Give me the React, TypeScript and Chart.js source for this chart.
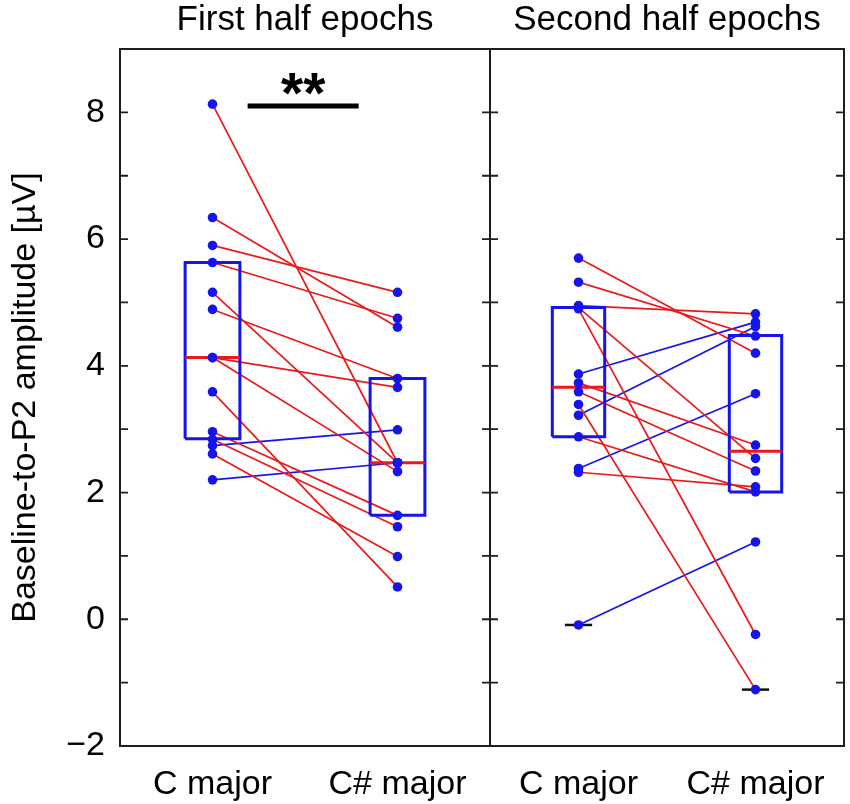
import { useEffect, useRef } from 'react';
import { Chart, registerables } from 'chart.js';

Chart.register(...registerables);

// ---- data ----
const categories = ['C major', 'C# major'];
const panelTitles = ['First half epochs', 'Second half epochs'];
const yTickLabels = [-2, 0, 2, 4, 6, 8];

const firstC = [8.13, 6.34, 5.9, 5.63, 5.16, 4.89, 4.13, 4.13, 3.59, 2.96, 2.84, 2.74, 2.61, 2.2];
const firstCs = [2.47, 4.61, 5.16, 4.75, 2.47, 3.8, 3.66, 2.33, 0.51, 1.64, 1.46, 2.99, 0.99, 2.47];
const secondC = [5.7, 5.32, 4.95, 4.92, 4.9, 3.87, 3.73, 3.59, 3.39, 3.22, 2.88, 2.38, 2.32, -0.09];
const secondCs = [4.2, 4.47, 4.82, 2.54, -0.24, 4.69, 2.75, 2.34, -1.11, 4.62, 2.01, 3.56, 2.09, 1.22];

const firstQ1 = [2.85, 1.64];
const firstMed = [4.13, 2.47];
const firstQ3 = [5.63, 3.8];
const secondQ1 = [2.88, 2.01];
const secondMed = [3.66, 2.65];
const secondQ3 = [4.92, 4.48];
const secondCaps = [-0.09, -1.11];

const sigBar = [1.19, 1.79];
const sigY = 8.1;
const sigLabel = '**';

const yTitle = 'Baseline-to-P2 amplitude [µV]';

// ---- styles ----
const BLUE = 'rgb(20,20,235)';
const RED = 'rgb(235,25,25)';
const FONT = '"Liberation Sans", Arial, Helvetica, sans-serif';
const BW = 0.148;
const CW = 0.077;

function panelDatasets(axis: string, c: number[], cs: number[], q1: number[], med: number[], q3: number[], caps: number[]) {
  const ds: any[] = [];
  const base = { xAxisID: axis, yAxisID: 'y', pointRadius: 0, tension: 0, fill: false };
  ds.push({
    ...base,
    data: [...c.map((v) => ({ x: 1, y: v })), ...cs.map((v) => ({ x: 2, y: v }))],
    showLine: false,
    pointRadius: 4.8,
    pointBackgroundColor: BLUE,
    pointBorderColor: BLUE,
    pointBorderWidth: 0,
    order: 0,
  });
  [0, 1].forEach((i) => {
    ds.push({
      ...base,
      data: [
        { x: i + 1 - BW, y: med[i] },
        { x: i + 1 + BW, y: med[i] },
      ],
      borderColor: RED,
      borderWidth: 3,
      order: 1,
    });
    ds.push({
      ...base,
      data: [
        { x: i + 1 - BW, y: q1[i] },
        { x: i + 1 + BW, y: q1[i] },
        { x: i + 1 + BW, y: q3[i] },
        { x: i + 1 - BW, y: q3[i] },
        { x: i + 1 - BW, y: q1[i] },
      ],
      borderColor: BLUE,
      borderWidth: 3,
      borderJoinStyle: 'miter',
      order: 2,
    });
  });
  caps.forEach((v, i) => {
    ds.push({
      ...base,
      data: [
        { x: i + 1 - CW, y: v },
        { x: i + 1 + CW, y: v },
      ],
      borderColor: '#111',
      borderWidth: 2.5,
      order: 1,
    });
  });
  c.forEach((v, i) => {
    ds.push({
      ...base,
      data: [
        { x: 1, y: v },
        { x: 2, y: cs[i] },
      ],
      borderColor: cs[i] > v ? BLUE : RED,
      borderWidth: 1.7,
      order: 3,
    });
  });
  return ds;
}

const framePlugin = {
  id: 'framePlugin',
  afterDatasetsDraw(chart: any) {
    const { ctx, chartArea: a, scales } = chart;
    const y = scales.y;
    const x1 = scales.x1;
    ctx.save();
    ctx.strokeStyle = '#1e1e1e';
    ctx.lineWidth = 2;
    ctx.strokeRect(a.left, a.top, a.right - a.left, a.bottom - a.top);
    ctx.beginPath();
    ctx.moveTo(x1.right, a.top);
    ctx.lineTo(x1.right, a.bottom);
    ctx.stroke();
    ctx.lineWidth = 1.8;
    y.ticks.forEach((t: any) => {
      const py = y.getPixelForValue(t.value);
      if (Math.abs(py - a.top) < 2 || Math.abs(py - a.bottom) < 2) return;
      ctx.beginPath();
      ctx.moveTo(a.left, py);
      ctx.lineTo(a.left + 8, py);
      ctx.moveTo(x1.right - 8, py);
      ctx.lineTo(x1.right + 8, py);
      ctx.moveTo(a.right - 8, py);
      ctx.lineTo(a.right, py);
      ctx.stroke();
    });
    ctx.restore();
  },
  afterDraw(chart: any) {
    const { ctx, scales } = chart;
    const y = scales.y;
    ctx.save();
    ctx.fillStyle = '#000';
    ctx.textAlign = 'center';
    ctx.textBaseline = 'alphabetic';
    ctx.font = `35px ${FONT}`;
    ctx.fillText(panelTitles[0], scales.x1.getPixelForValue(1.5), 30);
    ctx.fillText(panelTitles[1], scales.x2.getPixelForValue(1.5), 30);
    ctx.font = `bold 57px ${FONT}`;
    ctx.fillText(sigLabel, scales.x1.getPixelForValue((sigBar[0] + sigBar[1]) / 2), y.getPixelForValue(sigY) + 7);
    ctx.restore();
  },
};

function xScale(weight: number) {
  return {
    type: 'linear',
    axis: 'x',
    position: 'bottom',
    stack: 'panels',
    stackWeight: weight,
    min: 0.5,
    max: 2.5,
    grid: { display: false, drawTicks: false },
    border: { display: false },
    ticks: {
      autoSkip: false,
      maxRotation: 0,
      padding: 18,
      color: '#000',
      font: { size: 34, family: FONT },
      callback: (v: number) => categories[Math.round(v) - 1] ?? '',
    },
    afterBuildTicks: (s: any) => {
      s.ticks = [{ value: 1 }, { value: 2 }];
    },
    afterFit: (s: any) => {
      s.height = 58;
      s.paddingLeft = 0;
      s.paddingRight = 0;
    },
  };
}

export default function App() {
  const ref = useRef<HTMLCanvasElement | null>(null);
  useEffect(() => {
    if (!ref.current) return;
    const datasets = [
      ...panelDatasets('x1', firstC, firstCs, firstQ1, firstMed, firstQ3, []),
      ...panelDatasets('x2', secondC, secondCs, secondQ1, secondMed, secondQ3, secondCaps),
      {
        xAxisID: 'x1',
        yAxisID: 'y',
        data: [
          { x: sigBar[0], y: sigY },
          { x: sigBar[1], y: sigY },
        ],
        borderColor: '#000',
        borderWidth: 5,
        pointRadius: 0,
        order: 1,
      },
    ];
    const chart = new Chart(ref.current, {
      type: 'line',
      data: { datasets } as any,
      options: {
        animation: false,
        responsive: true,
        maintainAspectRatio: false,
        events: [],
        layout: { padding: { top: 49, right: 6, left: 0, bottom: 0 } },
        plugins: {
          legend: { display: false },
          tooltip: { enabled: false },
        },
        scales: {
          x1: xScale(370),
          x2: xScale(354),
          y: {
            type: 'linear',
            position: 'left',
            min: -2,
            max: 9,
            grid: { display: false, drawTicks: false },
            border: { display: false },
            ticks: {
              stepSize: 1,
              autoSkip: false,
              padding: 15,
              color: '#000',
              font: { size: 34, family: FONT },
              callback: (v: number) =>
                yTickLabels.includes(v) ? (v < 0 ? '\u2212' + Math.abs(v) : String(v)) : '',
            },
            title: {
              display: true,
              text: yTitle,
              color: '#000',
              font: { size: 34, family: FONT },
              padding: { top: 5, bottom: 0 },
            },
            afterFit: (s: any) => {
              s.width = 120;
            },
          },
        } as any,
      },
      plugins: [framePlugin],
    });
    return () => chart.destroy();
  }, []);
  return (
    <div style={{ position: 'absolute', left: 0, top: 0, width: 850, height: 804, background: '#fff' }}>
      <canvas ref={ref} />
    </div>
  );
}
